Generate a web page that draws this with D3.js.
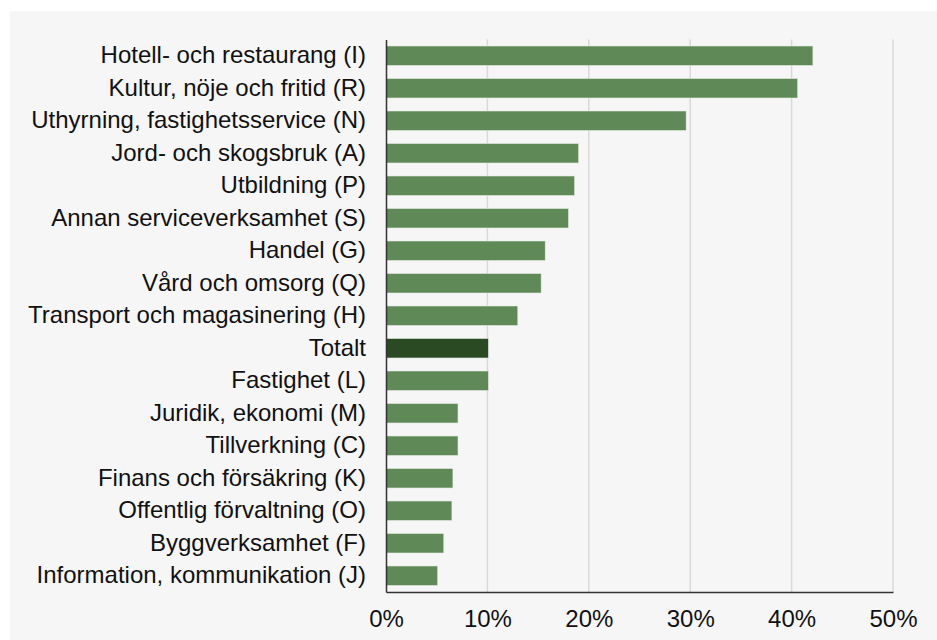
<!DOCTYPE html>
<html>
<head>
<meta charset="utf-8">
<script src="https://cdn.jsdelivr.net/npm/d3@7"></script>
<style>
  body { margin: 0; background: #fff; }
  svg { display: block; }
</style>
</head>
<body>
<div id="chart"></div>
<script>
// branscher, sorterade som i originalet
const categories = [
    "Hotell- och restaurang (I)",
    "Kultur, nöje och fritid (R)",
    "Uthyrning, fastighetsservice (N)",
    "Jord- och skogsbruk (A)",
    "Utbildning (P)",
    "Annan serviceverksamhet (S)",
    "Handel (G)",
    "Vård och omsorg (Q)",
    "Transport och magasinering (H)",
    "Totalt",
    "Fastighet (L)",
    "Juridik, ekonomi (M)",
    "Tillverkning (C)",
    "Finans och försäkring (K)",
    "Offentlig förvaltning (O)",
    "Byggverksamhet (F)",
    "Information, kommunikation (J)"
];
const values = [0.421, 0.406, 0.296, 0.190, 0.186, 0.180, 0.157, 0.153, 0.130, 0.101, 0.101, 0.071, 0.071, 0.066, 0.065, 0.057, 0.051];
const highlight = "Totalt";
const xTicks = [0, 0.1, 0.2, 0.3, 0.4, 0.5];

const width = 937;
const height = 640;
const margin = { top: 39.5, right: 44, bottom: 48, left: 386 };

const svg = d3.select("#chart")
    .append("svg")
    .attr("width", width)
    .attr("height", height);

// grå bakgrund
svg.append("rect")
    .attr("x", 10)
    .attr("y", 11)
    .attr("width", width - 10)
    .attr("height", height - 11)
    .attr("fill", "#f6f6f6");

const x = d3.scaleLinear()
    .domain([0, 0.5])
    .range([margin.left, width - margin.right]);

const y = d3.scaleBand()
    .domain(categories)
    .range([margin.top, height - margin.bottom])
    .paddingInner(0.4)
    .paddingOuter(0.2);

// stödlinjer
svg.append("g")
    .selectAll("line")
    .data(xTicks.slice(1))
    .join("line")
    .attr("x1", d => x(d))
    .attr("x2", d => x(d))
    .attr("y1", margin.top)
    .attr("y2", height - margin.bottom)
    .attr("stroke", "#d9d9d9")
    .attr("stroke-width", 1.5);

svg.append("g")
    .selectAll("rect")
    .data(values)
    .join("rect")
    .attr("x", x(0))
    .attr("y", (d, i) => y(categories[i]))
    .attr("width", d => x(d) - x(0))
    .attr("height", y.bandwidth())
    .attr("fill", (d, i) => categories[i] == highlight ? "#294a23" : "#5f8a57")
    .attr("stroke", "#e4ece2")
    .attr("stroke-width", 0.6);

function yAxis(g) {
    g.attr("transform", `translate(${margin.left},0)`)
        .call(d3.axisLeft(y).tickSize(0).tickPadding(20))
        .call(g => g.select(".domain").attr("stroke", "#333").attr("stroke-width", 1.5))
        .selectAll("text")
        .attr("font-family", "Liberation Sans, Arial, sans-serif")
        .attr("font-size", "24px")
        .attr("fill", "#111");
}

function xAxis(g) {
    g.attr("transform", `translate(0,${height - margin.bottom})`)
        .call(d3.axisBottom(x).tickValues(xTicks).tickFormat(d3.format(".0%")).tickSize(0).tickPadding(18))
        .call(g => g.select(".domain").attr("stroke", "#333").attr("stroke-width", 1.5))
        .selectAll("text")
        .attr("font-family", "Liberation Sans, Arial, sans-serif")
        .attr("font-size", "24px")
        .attr("fill", "#111");
}

svg.append("g").call(xAxis);
svg.append("g").call(yAxis);
</script>
</body>
</html>
